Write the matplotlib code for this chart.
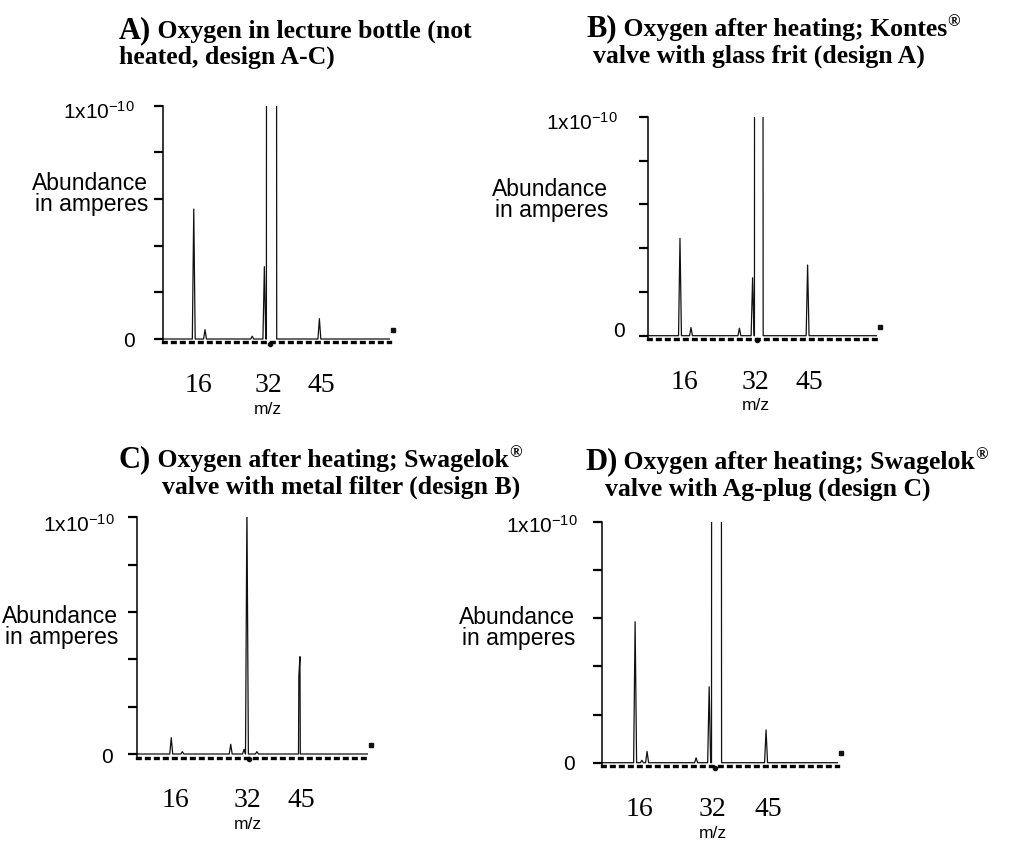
import matplotlib.pyplot as plt

plt.rcParams['mathtext.default'] = 'regular'

SANS = 'Liberation Sans'
SERIF = 'Liberation Serif'

# peak list per spectrum: (m/z, abundance in units of 1e-10 A)
peaks_a = [(16.0, 0.557), (18.6, 0.04), (29.5, 0.012), (32.3, 0.31), (45.0, 0.087)]
peaks_b = [(16.0, 0.445), (18.5, 0.037), (29.5, 0.034), (32.5, 0.265), (45.0, 0.323)]
peaks_c = [(16.0, 0.069), (18.5, 0.01), (29.4, 0.041), (32.4, 0.02), (33.05, 1.05),
           (35.3, 0.01), (44.75, 0.33), (45.0, 0.411)]
peaks_d = [(16.0, 0.585), (17.5, 0.01), (18.65, 0.047), (29.5, 0.02), (32.4, 0.315),
           (45.0, 0.136)]

# off-scale O2 peak (rising edge, falling edge), None = on scale
o2_a = (32.85, 35.0)
o2_b = (33.0, 34.75)
o2_c = None
o2_d = (33.0, 35.0)

# m/z range of each panel
xlim_a = (8.9, 61.3)
xlim_b = (8.8, 60.7)
xlim_c = (8.35, 60.4)
xlim_d = (8.6, 61.0)

mz_labels = ['16', '32', '45']
label_pos = [17.0, 33.2, 45.4]
y_ticks = [0, 0.2, 0.4, 0.6, 0.8, 1.0]

titles = {
    'A': ['Oxygen in lecture bottle (not', 'heated, design A-C)', None],
    'B': ['Oxygen after heating; Kontes', 'valve with glass frit (design A)', '®'],
    'C': ['Oxygen after heating; Swagelok', 'valve with metal filter (design B)', '®'],
    'D': ['Oxygen after heating; Swagelok', 'valve with Ag-plug (design C)', '®'],
}

W, H = 1009, 848
fig = plt.figure(figsize=(W / 100, H / 100), dpi=100)
renderer = fig.canvas.get_renderer()


def fx(x):
    return x / W


def fy(y):
    return 1 - y / H


def trace(peaks, o2, xlim, w=0.33):
    pts = [(xlim[0] + 0.05, 0.0), (xlim[1], 0.0)]
    for m, h in peaks:
        pts += [(m - w, 0.0), (m, h), (m + w, 0.0)]
    if o2 is not None:
        r, f = o2
        pts += [(r - 0.08, 0.0), (r, 5.0), (f, 5.0), (f + 0.15, 0.0)]
    pts.sort()
    return [p[0] for p in pts], [p[1] for p in pts]


def title_line(pieces, x, y):
    for text, size, dy in pieces:
        t = fig.text(fx(x), fy(y - dy), text, fontsize=size, fontweight='bold',
                     family=SERIF, ha='left', va='baseline')
        x += t.get_window_extent(renderer=renderer).width


# panel layout in pixels
panels = [
    dict(key='A', peaks=peaks_a, o2=o2_a, xlim=xlim_a, left=163, right=390, top=105.7, zero=339,
         t1=(119, 38), t2=(119, 64), ab=(148, 191), top_lab=(135, 119), zero_lab=(135, 347)),
    dict(key='B', peaks=peaks_b, o2=o2_b, xlim=xlim_b, left=648.3, right=876.7, top=117, zero=335.7,
         t1=(586, 36), t2=(593, 63), ab=(608, 197), top_lab=(618, 130), zero_lab=(625, 337)),
    dict(key='C', peaks=peaks_c, o2=o2_c, xlim=xlim_c, left=137.3, right=368.3, top=517.3, zero=754,
         t1=(119, 467), t2=(162, 494), ab=(118, 624), top_lab=(115, 532), zero_lab=(113, 763)),
    dict(key='D', peaks=peaks_d, o2=o2_d, xlim=xlim_d, left=601.7, right=838.3, top=521.7, zero=762.7,
         t1=(585, 469), t2=(605, 496), ab=(575, 625), top_lab=(578, 533), zero_lab=(575, 770)),
]

for p in panels:
    rng = p['zero'] - p['top']
    bottom = p['zero'] + 0.015 * rng
    ax = fig.add_axes([fx(p['left']), fy(bottom), (p['right'] - p['left']) / W, (bottom - p['top']) / H])
    x, y = trace(p['peaks'], p['o2'], p['xlim'])
    ax.plot(x, y, color='#111111', lw=0.9)
    ax.set_xlim(*p['xlim'])
    ax.set_ylim(-0.015, 1.0)

    for s in ['top', 'right']:
        ax.spines[s].set_visible(False)
    ax.spines['left'].set_linewidth(1.1)
    ax.spines['bottom'].set_linewidth(2.4)
    ax.spines['bottom'].set_linestyle((0, (0.8, 1.9)))

    ax.set_yticks(y_ticks)
    ax.set_yticklabels([])
    ax.tick_params(axis='y', direction='out', length=6.5, width=1.6)
    ax.set_xticks(label_pos)
    ax.set_xticklabels(mz_labels, family=SERIF, fontsize=20)
    ax.tick_params(axis='x', length=0, pad=22)

    # end marker and mark under m/z 32
    ax.plot([p['xlim'][1] + 0.7], [0.04], marker='s', ms=3.5, color='#111111', clip_on=False)
    ax.plot([33.6], [-0.02], marker='o', ms=3, color='#111111', clip_on=False)

    ax.annotate('m/z', xy=(33.2, 0), xycoords=('data', 'axes fraction'),
                xytext=(0, -67), textcoords='offset pixels', ha='center', va='center',
                family=SANS, fontsize=12.5)

    # titles
    l1, l2, reg = titles[p['key']]
    pieces = [(p['key'] + ')', 22, 0), (' ' + l1, 18.5, 0)]
    if reg:
        pieces.append((reg, 12, 10))
    title_line(pieces, *p['t1'])
    title_line([(l2, 18.5, 0)], *p['t2'])

    # y labels (baseline given for the last line)
    ax_x, ax_y = p['ab']
    fig.text(fx(ax_x), fy(ax_y + 20), 'Abundance\nin amperes', family=SANS, fontsize=16.5,
             ha='right', va='baseline', multialignment='right', linespacing=0.88)
    fig.text(fx(p['top_lab'][0]), fy(p['top_lab'][1]), '1x10$^{-10}$', family=SANS, fontsize=15,
             ha='right', va='baseline')
    fig.text(fx(p['zero_lab'][0]), fy(p['zero_lab'][1]), '0', family=SANS, fontsize=15,
             ha='right', va='baseline')

fig.savefig('out.png', dpi=100)
